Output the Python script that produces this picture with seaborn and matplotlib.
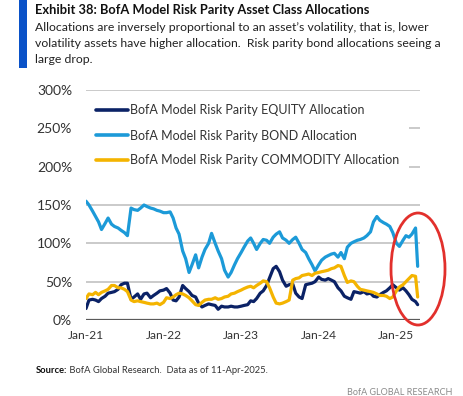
import numpy as np
import pandas as pd
import matplotlib
matplotlib.use("Agg")
import matplotlib.pyplot as plt
import matplotlib.dates as mdates
from matplotlib.patches import Ellipse, Rectangle
from matplotlib.lines import Line2D
from matplotlib import font_manager
import seaborn as sns

# ---------------- data (semi-monthly) ----------------
dates = list(pd.date_range("2021-01-01", "2025-04-01", freq="SMS")) + [pd.Timestamp("2025-04-11")]

equity = [15, 26, 27, 26, 24, 28, 31, 35, 36, 37,
          40, 46, 48, 48, 27, 30, 34, 27, 34, 35,
          29, 32, 35, 38, 39, 41, 35, 26, 25, 30,
          45, 41, 37, 32, 30, 22, 17, 19, 21, 20,
          19, 14, 18, 17, 17, 18, 17, 17, 18, 19,
          20, 25, 24, 28, 35, 38, 45, 55, 67, 70,
          63, 52, 44, 46, 47, 35, 30, 28, 46, 47,
          48, 50, 56, 53, 52, 54, 52, 50, 42, 38,
          31, 29, 27, 37, 36, 35, 37, 34, 35, 31,
          30, 33, 36, 38, 42, 46, 42, 39, 42, 38,
          33, 27, 24, 20]

bond = [155, 150, 142, 135, 128, 118, 126, 133, 125, 122,
        120, 117, 114, 110, 146, 144, 143, 146, 150, 148,
        146, 145, 143, 142, 140, 140, 141, 133, 120, 112,
        90, 80, 62, 72, 85, 68, 82, 92, 100, 113,
        100, 90, 80, 65, 56, 62, 72, 80, 88, 95,
        103, 107, 100, 92, 100, 105, 104, 100, 108, 112,
        115, 107, 104, 100, 105, 108, 100, 92, 88, 80,
        72, 64, 72, 78, 82, 84, 86, 87, 82, 88,
        80, 95, 100, 102, 104, 105, 107, 110, 115, 128,
        135, 130, 127, 125, 122, 114, 100, 96, 104, 110,
        108, 112, 120, 70]

commodity = [28, 34, 33, 36, 33, 36, 38, 40, 45, 45,
             42, 42, 40, 37, 26, 24, 25, 24, 23, 22,
             21, 21, 22, 20, 23, 29, 28, 30, 33, 35,
             34, 32, 29, 25, 20, 19, 23, 26, 27, 27,
             29, 27, 28, 30, 31, 34, 35, 37, 39, 41,
             43, 44, 42, 45, 48, 51, 50, 42, 30, 22,
             21, 22, 24, 26, 52, 54, 55, 58, 59, 60,
             58, 61, 62, 63, 64, 65, 67, 68, 71, 70,
             58, 49, 51, 50, 44, 40, 39, 38, 37, 36,
             34, 32, 32, 31, 28, 30, 38, 43, 46, 50,
             54, 58, 57, 30]

series_names = ["BofA Model Risk Parity EQUITY Allocation",
                "BofA Model Risk Parity BOND Allocation",
                "BofA Model Risk Parity COMMODITY Allocation"]
colors = ["#0b2266", "#1c9ad8", "#f4b400"]
yticks = [0, 50, 100, 150, 200, 250, 300]

title = "Exhibit 38: BofA Model Risk Parity Asset Class Allocations"
subtitle = ["Allocations are inversely proportional to an asset\u2019s volatility, that is, lower",
            "volatility assets have higher allocation.  Risk parity bond allocations seeing a",
            "large drop."]
source_bold = "Source:"
source_rest = " BofA Global Research.  Data as of 11-Apr-2025."
brand = "BofA GLOBAL RESEARCH"

# ---------------- style ----------------
sns.set_theme(style="white")

W, H = 464, 396
fig = plt.figure(figsize=(W / 100, H / 100), dpi=100)
renderer = fig.canvas.get_renderer()

# choose the narrowest installed sans family
ttf = font_manager.fontManager.ttflist
cands = []
if any(f.name == "DejaVu Sans" and "Condensed" in f.fname for f in ttf):
    cands.append(("DejaVu Sans", "condensed"))
names = {f.name for f in ttf}
for n in ["Liberation Sans Narrow", "Lato", "Roboto", "Liberation Sans"]:
    if n in names:
        cands.append((n, "normal"))


def width(text, size, family, stretch="normal", weight="normal"):
    t = fig.text(0, 0, text, fontsize=size, family=[family, "DejaVu Sans"],
                 fontstretch=stretch, fontweight=weight)
    w = t.get_window_extent(renderer).width
    t.remove()
    return w


best = min(cands, key=lambda c: width(subtitle[0], 10, c[0], c[1]))
fam, stretch = best
plt.rcParams["font.family"] = [fam, "DejaVu Sans"]
plt.rcParams["font.stretch"] = stretch


def fit(text, target, weight="normal", cap=None):
    s = 10 * target / width(text, 10, fam, stretch, weight)
    return min(s, cap) if cap else s


fs_title = fit(title, 335, "bold", 12.5)
fs_sub = fit(subtitle[0], 395, cap=11.5)
fs_leg = fit(series_names[2], 269, cap=11.5)
fs_ytick = fit("300%", 35, cap=12)
fs_xtick = fit("Jan-21", 36, cap=12)
fs_src = fit(source_bold + source_rest, 232, cap=9.5)
fs_brand = fit(brand, 105, cap=9.5)

ax = fig.add_axes([86 / W, 1 - 320 / H, (420 - 86) / W, (320 - 90) / H])

df = pd.DataFrame({"date": dates * 3,
                   "value": equity + bond + commodity,
                   "series": [series_names[0]] * len(dates) + [series_names[1]] * len(dates)
                             + [series_names[2]] * len(dates)})
sns.lineplot(data=df, x="date", y="value", hue="series", hue_order=series_names,
             palette=colors, linewidth=2.3, ax=ax, legend=False, zorder=3)

ax.set_ylim(0, 300)
ax.set_xlim(pd.Timestamp("2021-01-01"), pd.Timestamp("2025-04-22"))
ax.set_yticks(yticks)
ax.set_yticklabels([f"{v}%" for v in yticks])
ax.xaxis.set_major_locator(mdates.YearLocator())
ax.xaxis.set_major_formatter(mdates.DateFormatter("%b-%y"))
ax.set_xlabel("")
ax.set_ylabel("")
for s in ax.spines.values():
    s.set_visible(False)
for v in yticks[1:]:
    ax.axhline(v, color="#c6c6c6", linewidth=1.3, zorder=1)
ax.axhline(0, color="#5a5a5a", linewidth=1.6, zorder=2)
ax.tick_params(axis="both", length=0, colors="#333333")
ax.tick_params(axis="y", pad=10, labelsize=fs_ytick)
ax.tick_params(axis="x", pad=7, labelsize=fs_xtick)

# legend
handles = [Line2D([0], [0], color=c, linewidth=2.6) for c in colors]
em = fs_leg * 100 / 72
leg = ax.legend(handles, series_names, loc="upper left",
                bbox_to_anchor=(86 / W, 1 - 95 / H), bbox_transform=fig.transFigure,
                frameon=True, facecolor="white", edgecolor="none", framealpha=1,
                fancybox=False, fontsize=fs_leg, handlelength=32 / em, handletextpad=3 / em,
                labelspacing=13 / em, borderpad=9.5 / em, borderaxespad=0)
for t in leg.get_texts():
    t.set_color("#333333")
leg.set_zorder(5)

# header
fig.add_artist(Rectangle((19 / W, 1 - 68 / H), 8 / W, 68 / H, transform=fig.transFigure,
                         facecolor="#0a52c8", edgecolor="none"))
fig.text(35 / W, 1 - 13.5 / H, title, fontsize=fs_title, fontweight="bold", color="#111111",
         va="baseline", ha="left")
for i, line in enumerate(subtitle):
    fig.text(35 / W, 1 - (30.7 + 16 * i) / H, line, fontsize=fs_sub, color="#222222",
             va="baseline", ha="left")

# footer
t1 = fig.text(36 / W, 1 - 373 / H, source_bold, fontsize=fs_src, fontweight="bold",
              color="#111111", va="baseline", ha="left")
bb = t1.get_window_extent(renderer)
fig.text(bb.x1 / W, 1 - 373 / H, source_rest, fontsize=fs_src, color="#333333",
         va="baseline", ha="left")
fig.text(452 / W, 1 - 395 / H, brand, fontsize=fs_brand, color="#8a8a8a",
         va="baseline", ha="right")

# red ellipse annotation
fig.add_artist(Ellipse((418 / W, 1 - 269 / H), 54 / W, 112 / H, transform=fig.transFigure,
                       fill=False, edgecolor="#e2302c", linewidth=2.0, zorder=10))

fig.savefig("out.png", dpi=100)
